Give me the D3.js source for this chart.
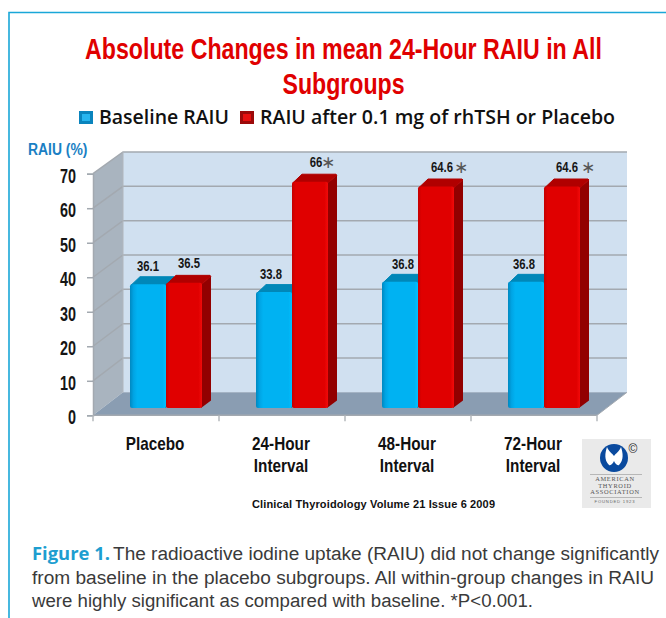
<!DOCTYPE html>
<html><head><meta charset="utf-8">
<script src="https://cdn.jsdelivr.net/npm/d3@7"></script>
<style>html,body{margin:0;padding:0;background:#fff;overflow:hidden}svg{display:block}</style>
</head><body><svg id="c" width="666" height="618"></svg>
<script>
const categories = [["Placebo"], ["24-Hour","Interval"], ["48-Hour","Interval"], ["72-Hour","Interval"]];
const baseline = [36.1, 33.8, 36.8, 36.8];
const after = [36.5, 66, 64.6, 64.6];
const baselineLabels = ["36.1","33.8","36.8","36.8"];
const afterLabels = ["36.5","66","64.6","64.6"];
const significant = [false, true, true, true];
const yTicks = [0,10,20,30,40,50,60,70];
const titleLines = ["Absolute Changes in mean 24-Hour RAIU in All","Subgroups"];
const legendLabels = ["Baseline RAIU","RAIU after 0.1 mg of rhTSH or Placebo"];
const captionLines = ["The radioactive iodine uptake (RAIU) did not change significantly","from baseline in the placebo subgroups. All within-group changes in RAIU","were highly significant as compared with baseline. *P<0.001."];

const SANS = "'Liberation Sans',Arial,sans-serif";
const svg = d3.select("#c");
const defs = svg.append("defs");
function grad(id, stops){
  const g = defs.append("linearGradient").attr("id",id);
  stops.forEach(s=>g.append("stop").attr("offset",s[0]).attr("stop-color",s[1]));
}
grad("gBlue",[[0,"#0088c0"],[.1,"#00a4e4"],[.2,"#00b2f2"],[.9,"#00b2f2"],[1,"#00c0ff"]]);
grad("gRed",[[0,"#c40000"],[.1,"#e00000"],[.9,"#e00000"],[1,"#f20a0a"]]);

// horizontally condense a text about its own anchor
function squeeze(sel, k){
  sel.each(function(){
    const t = d3.select(this), x = +t.attr("x")||0, y = +t.attr("y")||0;
    const s = typeof k === "function" ? k(this) : k;
    t.attr("x",0).attr("y",0).attr("transform",`translate(${x},${y}) scale(${s},1)`);
  });
}

// frame
svg.append("path").attr("d","M666,12.5H9V618").attr("fill","none").attr("stroke","#1aa7d8").attr("stroke-width",1.6);

// title
const titleW = [517,122];
svg.selectAll(".title").data(titleLines).join("text")
 .attr("x",343.5).attr("y",(d,i)=>58.5+i*35).attr("text-anchor","middle")
 .attr("font-family",SANS).attr("font-weight",700).attr("font-size",29).attr("fill","#e00000")
 .text(d=>d).call(squeeze, function(n){ return titleW[titleLines.indexOf(n.textContent)]/n.getComputedTextLength(); });

// scales
const x0 = d3.scaleBand().domain(d3.range(4)).range([93,597]);
const yFront = d3.scaleLinear().domain([0,70]).range([415.3,173.7]);
const yBack = d3.scaleLinear().domain([0,70]).range([392.3,152]);
const yBar = d3.scaleLinear().domain([0,70]).range([408,168]);
const depthX = 30, barW = 36, barDx = 9, barDy = 7.5, groupShift = 10;

// walls
const wall = svg.append("g");
wall.append("polygon").attr("points",`93,${yFront(70)} ${93+depthX},${yBack(70)} ${93+depthX},${yBack(0)} 93,${yFront(0)}`).attr("fill","#a9b4bf");
wall.append("rect").attr("x",93+depthX).attr("y",yBack(70)).attr("width",504).attr("height",yBack(0)-yBack(70)).attr("fill","#d0e0f0");
wall.append("polygon").attr("points",`93,${yFront(0)} ${93+depthX},${yBack(0)} ${597+depthX},${yBack(0)} 597,${yFront(0)}`).attr("fill","#8a9db2");
wall.selectAll(".g").data(yTicks.slice(1)).join("path")
 .attr("d",t=>`M93,${yFront(t)}L${93+depthX},${yBack(t)}H${597+depthX}`)
 .attr("fill","none").attr("stroke","#a3a9b0").attr("stroke-width",1.5);
wall.append("path").attr("d",`M${93+depthX},${yBack(70)}V${yBack(0)}`).attr("stroke","#b0b6bc").attr("stroke-width",1);

// y axis
const axisG = svg.append("g").attr("transform","translate(93,0)")
 .call(d3.axisLeft(yFront).tickValues(yTicks).tickSize(6).tickPadding(11).tickFormat(d3.format("d")));
axisG.select(".domain").attr("stroke","#a3a9b0").attr("stroke-width",1.5);
axisG.selectAll(".tick line").attr("stroke","#a3a9b0").attr("stroke-width",1.5);
axisG.selectAll("text").attr("font-family",SANS).attr("font-weight",700).attr("font-size",20).attr("fill","#151515").attr("dy","0.42em").call(squeeze,.72);

// x axis
const xAxis = svg.append("g").attr("transform",`translate(0,${yFront(0)})`);
xAxis.append("path").attr("d","M93,0H597").attr("stroke","#a3a9b0").attr("stroke-width",1.5);
xAxis.selectAll("line").data(d3.range(5)).join("line")
 .attr("x1",i=>93+i*x0.step()).attr("x2",i=>93+i*x0.step()).attr("y1",0).attr("y2",6)
 .attr("stroke","#b4b8bc").attr("stroke-width",1.5);
xAxis.append("path").attr("d",`M597,0L${597+depthX},${yBack(0)-yFront(0)}`).attr("stroke","#a3a9b0").attr("fill","none");

// bars
function bar(g, xL, v, front, side, top){
  const yT = yBar(v), yB = yBar(0);
  g.append("path").attr("d",`M${xL+barW-1},${yB}L${xL+barW+barDx},${yB-barDy}V${yT-barDy+1}L${xL+barW},${yT+1}Z`).attr("fill",side);
  g.append("path").attr("d",`M${xL+1},${yT+1}L${xL+barDx+1},${yT-barDy}H${xL+barW+barDx-1}L${xL+barW+barDx},${yT-barDy+1}L${xL+barW-1},${yT+2}Z`).attr("fill",top).attr("stroke",top).attr("stroke-linejoin","round");
  g.append("rect").attr("x",xL).attr("y",yT).attr("width",barW).attr("height",yB-yT).attr("rx",2).attr("fill",front);
}
const bars = svg.append("g");
categories.forEach((c,i)=>{
  const cx = x0(i)+x0.bandwidth()/2+groupShift;
  bar(bars, cx-barW, baseline[i], "url(#gBlue)", "#006f9c", "#0087b8");
  bar(bars, cx, after[i], "url(#gRed)", "#920000", "#b00000");
});

// value labels
const baseNudge = [0,-3,3,-2], afterNudge = [5,6,6,5], starGap = [0,12,19,21];
const lab = svg.append("g").attr("font-family",SANS).attr("font-weight",700).attr("font-size",14.5).attr("fill","#161616").attr("text-anchor","middle");
categories.forEach((c,i)=>{
  const cx = x0(i)+x0.bandwidth()/2+groupShift;
  lab.append("text").attr("x",cx-barW/2+baseNudge[i]).attr("y",yBar(baseline[i])-13).text(baselineLabels[i]).call(squeeze,.78);
  const ax = cx+barW/2+afterNudge[i], ay = yBar(after[i])-14.5;
  lab.append("text").attr("x",ax).attr("y",ay).text(afterLabels[i]).call(squeeze,.78);
  if(significant[i]) lab.append("text").attr("x",ax+starGap[i]).attr("y",ay+1)
    .attr("font-family","DejaVu Sans").attr("font-weight",400).attr("font-size",17).attr("fill","#555").text("\u2217");
});

// axis title
svg.append("text").attr("x",28).attr("y",155).attr("font-family",SANS).attr("font-weight",700).attr("font-size",16).attr("fill","#1a7fc4").text("RAIU (%)").call(squeeze,.87);

// category labels
const cat = svg.append("g").attr("font-family",SANS).attr("font-weight",700).attr("font-size",18).attr("fill","#111").attr("text-anchor","middle");
categories.forEach((c,i)=>{
  c.forEach((t,k)=>cat.append("text").attr("x",x0(i)+x0.bandwidth()/2-1).attr("y",450+k*22).text(t).call(squeeze,.85));
});

// legend
const legendX = [99,260], swatchX = [79,240], swatchFill = [["#0a84bd","#27b5ef"],["#9c0a0a","#e81010"]], legendW = [130,355];
legendLabels.forEach((t,i)=>{
  const g = svg.append("g");
  g.append("rect").attr("x",swatchX[i]).attr("y",111).attr("width",14).attr("height",13).attr("fill",swatchFill[i][0]);
  g.append("rect").attr("x",swatchX[i]+3).attr("y",114).attr("width",8).attr("height",7).attr("fill",swatchFill[i][1]);
  g.append("text").attr("x",legendX[i]).attr("y",124).attr("font-family","'Open Sans','Noto Sans',sans-serif").attr("font-weight",600).attr("font-size",19)
   .attr("fill","#111").attr("textLength",legendW[i]).attr("lengthAdjust","spacingAndGlyphs").text(t);
});

// source
svg.append("text").attr("x",252).attr("y",508).attr("font-family",SANS).attr("font-weight",700).attr("font-size",11)
 .attr("fill","#111").attr("textLength",243).text("Clinical Thyroidology Volume 21 Issue 6 2009");

// caption
svg.append("text").attr("x",32).attr("y",560).attr("font-family","'Open Sans','Noto Sans',sans-serif").attr("font-weight",700).attr("font-size",18).attr("fill","#1d9ed0")
 .attr("textLength",78).attr("lengthAdjust","spacingAndGlyphs").text("Figure 1.");
const capX = [113,32,32], capW = [546,622,501];
captionLines.forEach((t,i)=>{
  svg.append("text").attr("x",capX[i]).attr("y",560+i*23.7).attr("font-family",SANS).attr("font-size",18).attr("fill","#3a3a3a")
   .attr("textLength",capW[i]).attr("lengthAdjust","spacingAndGlyphs").text(t);
});

// logo
const logo = svg.append("g");
logo.append("rect").attr("x",582).attr("y",439).attr("width",69).attr("height",69).attr("fill","#eaeaea");
logo.append("circle").attr("cx",614).attr("cy",458).attr("r",14).attr("fill","#0a4a9e");
logo.append("path").attr("d","M607,447C609,452 612,453 614,456C616,453 619,452 621,447C623,453 624,460 619,465C617,466 615,463 614,461C613,463 611,466 609,465C604,460 605,453 607,447Z").attr("fill","#fff");
logo.append("text").attr("x",633).attr("y",453).attr("text-anchor","middle").attr("font-family",SANS).attr("font-size",12).attr("fill","#222").text("\u00a9");
logo.append("path").attr("d","M590,474.5H642M590,497.5H642").attr("stroke","#aaa").attr("stroke-width",.8);
["AMERICAN","THYROID","ASSOCIATION"].forEach((t,i)=>logo.append("text").attr("x",615).attr("y",481+i*6.7).attr("text-anchor","middle")
  .attr("font-family","'Liberation Serif',serif").attr("font-size",6.4).attr("letter-spacing",.7).attr("fill","#555").text(t));
logo.append("text").attr("x",615).attr("y",503).attr("text-anchor","middle").attr("font-family",SANS).attr("font-size",4.2).attr("letter-spacing",.8).attr("fill","#666").text("FOUNDED 1923");
</script></body></html>
